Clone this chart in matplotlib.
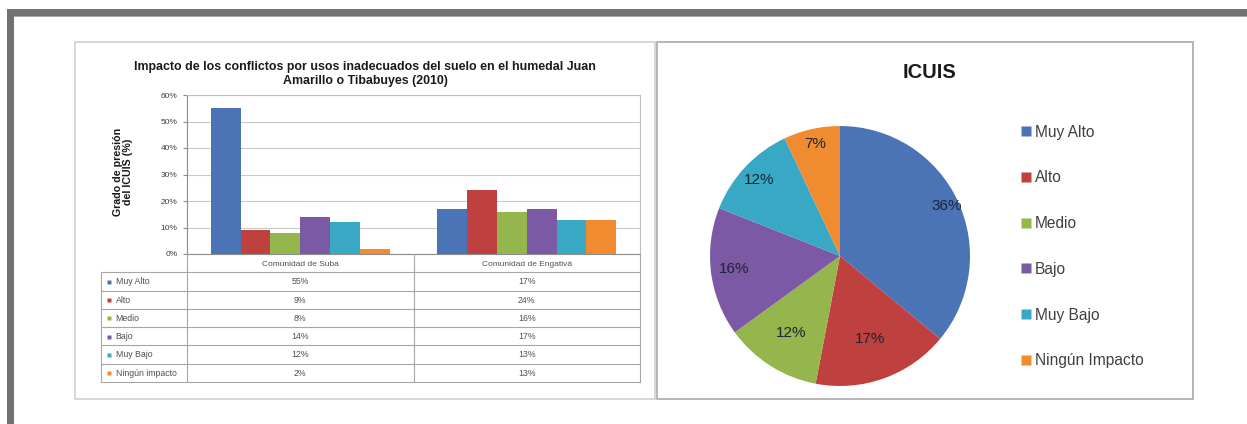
import matplotlib
matplotlib.use("Agg")
import matplotlib.pyplot as plt
from matplotlib.patches import Rectangle
from matplotlib.lines import Line2D
import numpy as np

plt.rcParams['font.family'] = ['Liberation Sans', 'DejaVu Sans']

# ---------------- data ----------------
bar_title = "Impacto de los conflictos por usos inadecuados del suelo en el humedal Juan\nAmarillo o Tibabuyes (2010)"
y_label = "Grado de presión\ndel ICUIS (%)"
communities = ["Comunidad de Suba", "Comunidad de Engativá"]
levels = ["Muy Alto", "Alto", "Medio", "Bajo", "Muy Bajo", "Ningún impacto"]
suba = [55, 9, 8, 14, 12, 2]
engativa = [17, 24, 16, 17, 13, 13]
y_ticks = [0, 10, 20, 30, 40, 50, 60]

pie_title = "ICUIS"
pie_labels = ["Muy Alto", "Alto", "Medio", "Bajo", "Muy Bajo", "Ningún Impacto"]
pie_values = [36, 17, 12, 16, 12, 7]

colors = ["#4A74B6", "#BF413F", "#94B64C", "#7C59A4", "#38A8C4", "#F18B30"]
# radial placement of each pie percentage label (fraction of radius), style only
label_radius = [0.91, 0.68, 0.70, 0.82, 0.85, 0.88]

# ---------------- figure ----------------
W, H = 1247, 424
fig = plt.figure(figsize=(W / 100, H / 100), dpi=100)
fig.patch.set_facecolor("white")

def fx(px):
    return px / W

def fy(py):
    return 1 - py / H

# outer gray frame
fig.patches.append(Rectangle((fx(7), fy(16)), 1 - fx(7), 7 / H, transform=fig.transFigure,
                             facecolor="#717175", edgecolor="none", zorder=-2))
fig.patches.append(Rectangle((fx(7), 0), 7 / W, fy(9), transform=fig.transFigure,
                             facecolor="#717175", edgecolor="none", zorder=-2))
fig.patches.append(Rectangle((fx(14), fy(17)), 1 - fx(14), 1 / H, transform=fig.transFigure,
                             facecolor="#a8a8ac", edgecolor="none", zorder=-2))

# panel boxes
fig.patches.append(Rectangle((fx(75), fy(399)), (655 - 75) / W, (399 - 42) / H, transform=fig.transFigure,
                             facecolor="white", edgecolor="#cfcfcf", lw=1.2, zorder=-1))
fig.patches.append(Rectangle((fx(657), fy(399)), (1193 - 657) / W, (399 - 42) / H, transform=fig.transFigure,
                             facecolor="white", edgecolor="#a9a9a9", lw=1.2, zorder=-1))

# ---------------- bar chart ----------------
ax = fig.add_axes([fx(187), fy(254), (640 - 187) / W, (254 - 95) / H])
ax.patch.set_alpha(0)
n_cat = len(communities)
n_ser = len(levels)
group_w = 0.79
bw = group_w / n_ser
x = np.arange(n_cat) + 0.5
series = np.array([suba, engativa]).T  # rows: levels
for i in range(n_ser):
    ax.bar(x - group_w / 2 + bw * (i + 0.5), series[i], width=bw, color=colors[i], zorder=3)
ax.set_xlim(0, n_cat)
ax.set_ylim(0, 60)
ax.set_yticks(y_ticks)
ax.set_yticklabels([f"{t}%" for t in y_ticks], fontsize=6, color="#404040")
ax.set_xticks([])
ax.grid(axis="y", color="#c9c9c9", lw=0.8, zorder=0)
for s in ax.spines.values():
    s.set_color("#bdbdbd")
    s.set_linewidth(0.8)
ax.spines["left"].set_color("#8c8c8c")
ax.spines["bottom"].set_color("#8c8c8c")
ax.tick_params(axis="y", length=3, color="#8c8c8c", pad=4)

fig.text(fx(365), fy(74), bar_title, ha="center", va="center", fontsize=8.9,
         fontweight="bold", color="#1a1a1a", linespacing=1.2)
fig.text(fx(123), fy(172), y_label, ha="center", va="center", rotation=90,
         fontsize=7.7, fontweight="bold", color="#1a1a1a", linespacing=1.05)

# ---------------- data table ----------------
label_w = 86 / 226.5
tab = fig.add_axes([fx(101), fy(382), (640 - 101) / W, (382 - 254) / H])
tab.set_xlim(-label_w, n_cat)
tab.set_ylim(n_ser, -1)
tab.axis("off")
line_c = "#a6a6a6"
for r in range(n_ser + 1):
    tab.plot([-label_w, n_cat], [r, r], color=line_c, lw=0.8, clip_on=False)
tab.plot([-label_w, -label_w], [0, n_ser], color=line_c, lw=0.8, clip_on=False)
for c in range(n_cat + 1):
    tab.plot([c, c], [-1, n_ser], color=line_c, lw=0.8, clip_on=False)
for c, name in enumerate(communities):
    tab.text(c + 0.5, -0.45, name, ha="center", va="center", fontsize=6, color="#505050")
for r, lev in enumerate(levels):
    tab.plot(-label_w + 0.035, r + 0.52, marker="s", ms=3.5, color=colors[r], mec="none")
    tab.text(-label_w + 0.065, r + 0.52, lev, ha="left", va="center", fontsize=6.3, color="#505050")
    for c in range(n_cat):
        tab.text(c + 0.5, r + 0.52, f"{series[r][c]}%", ha="center", va="center",
                 fontsize=6.3, color="#505050")

# ---------------- pie chart ----------------
R = 130
cx, cy = 840, 256
pax = fig.add_axes([fx(cx - R), fy(cy + R), 2 * R / W, 2 * R / H])
wedges, texts, autotexts = pax.pie(pie_values, colors=colors, startangle=90, counterclock=False,
                                   autopct="%1.0f%%", pctdistance=0.8,
                                   textprops=dict(fontsize=11, color="#1e2433"))
for w, t, rr in zip(wedges, autotexts, label_radius):
    ang = np.deg2rad((w.theta1 + w.theta2) / 2)
    t.set_position((rr * np.cos(ang), rr * np.sin(ang)))
pax.set_xlim(-1, 1)
pax.set_ylim(-1, 1)
pax.set_aspect("equal")
pax.axis("off")

fig.text(fx(930), fy(72), pie_title, ha="center", va="center", fontsize=14.5,
         fontweight="bold", color="#1a1a1a")

handles = [Line2D([], [], marker="s", ls="none", ms=6.5, color=c, mec="none") for c in colors]
leg = fig.legend(handles, pie_labels, loc="center left", bbox_to_anchor=(fx(1021), fy(246.5)),
                 frameon=False, fontsize=11.2, labelspacing=1.98, handlelength=0.6,
                 handletextpad=0.3, borderaxespad=0, borderpad=0)
for t in leg.get_texts():
    t.set_color("#404040")

fig.savefig("out.png", dpi=100, facecolor="white")
